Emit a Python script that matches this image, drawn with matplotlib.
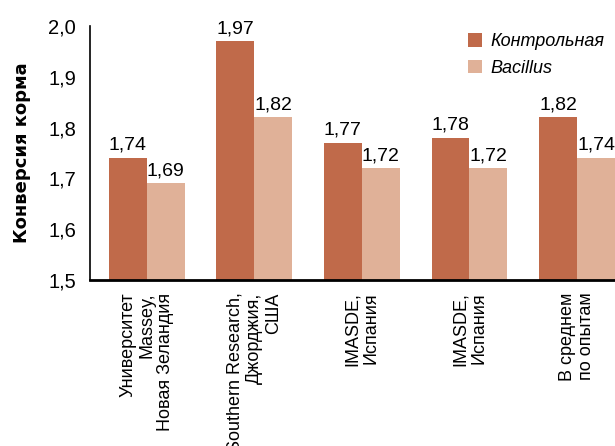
import matplotlib
matplotlib.use("Agg")
import matplotlib.pyplot as plt
import numpy as np

categories = ["Университет\nMassey,\nНовая Зеландия",
              "Southern Research,\nДжорджия,\nСША",
              "IMASDE,\nИспания",
              "IMASDE,\nИспания",
              "В среднем\nпо опытам"]
control = [1.74, 1.97, 1.77, 1.78, 1.82]
bacillus = [1.69, 1.82, 1.72, 1.72, 1.74]
series_names = ["Контрольная", "Bacillus"]

num_font = "Liberation Sans"

fig = plt.figure(figsize=(6.15, 4.46), dpi=100)
ax = fig.add_axes([0.146, 0.372, 0.854, 0.570])

x = np.arange(len(categories))
w = 0.353
b1 = ax.bar(x - w / 2, control, w, color="#C06A4A", label=series_names[0])
b2 = ax.bar(x + w / 2, bacillus, w, color="#E0B198", label=series_names[1])

for bars, vals in ((b1, control), (b2, bacillus)):
    for r, v in zip(bars, vals):
        ax.text(r.get_x() + r.get_width() / 2, v + 0.008, f"{v:.2f}".replace(".", ","),
                ha="center", va="bottom", fontsize=14, family=num_font)

ax.set_ylim(1.5, 2.0)
ax.set_xlim(-0.53, 4.353)
ax.set_yticks([1.5, 1.6, 1.7, 1.8, 1.9, 2.0])
ax.set_yticklabels(["1,5", "1,6", "1,7", "1,8", "1,9", "2,0"], family=num_font, fontsize=14.5)
ax.tick_params(axis="y", length=0, pad=10)
ax.set_xticks(x)
ax.set_xticklabels(categories, rotation=90, fontsize=13, ha="center", va="top",
                   multialignment="right", family="Liberation Sans", linespacing=1.15)
ax.tick_params(axis="x", length=0, pad=9)

for s in ("top", "right"):
    ax.spines[s].set_visible(False)
ax.spines["left"].set_linewidth(1.2)
ax.spines["bottom"].set_linewidth(2)

ax.set_ylabel("Конверсия корма", fontsize=13, fontweight="bold", labelpad=12)

leg = ax.legend(loc="upper left", bbox_to_anchor=(0.69, 1.035), frameon=False,
                handlelength=0.75, handleheight=0.75, handletextpad=0.45, labelspacing=0.55,
                prop={"style": "italic", "size": 13, "family": "Liberation Sans"})

fig.savefig("out.png", dpi=100)
